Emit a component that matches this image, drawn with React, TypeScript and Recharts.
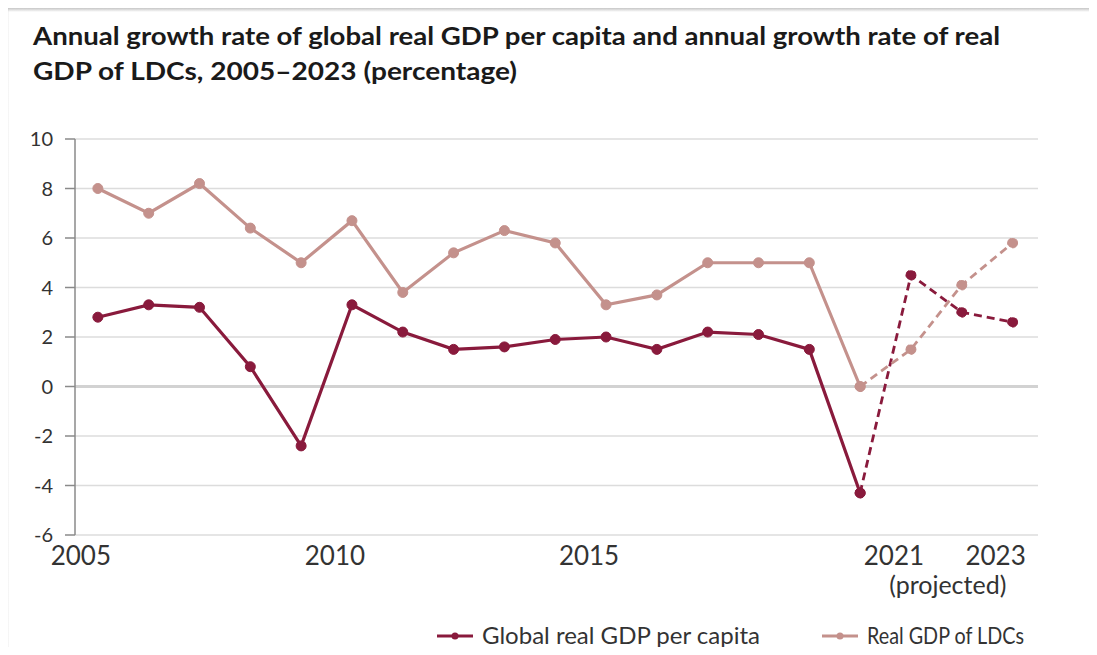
import React from 'react';
import { CartesianGrid, Legend, Line, LineChart, ReferenceLine, XAxis, YAxis } from 'recharts';

const YEARS = [2005, 2006, 2007, 2008, 2009, 2010, 2011, 2012, 2013, 2014, 2015, 2016, 2017, 2018, 2019, 2020, 2021, 2022, 2023];
const GLOBAL_GDP_PC = [2.8, 3.3, 3.2, 0.8, -2.4, 3.3, 2.2, 1.5, 1.6, 1.9, 2.0, 1.5, 2.2, 2.1, 1.5, -4.3, 4.5, 3.0, 2.6];
const LDC_GDP = [8.0, 7.0, 8.2, 6.4, 5.0, 6.7, 3.8, 5.4, 6.3, 5.8, 3.3, 3.7, 5.0, 5.0, 5.0, 0.0, 1.5, 4.1, 5.8];
// vanaf dit jaar is de lijn een projectie (gestippeld)
const PROJECTION_FROM = 2020;
const X_TICKS = [2005, 2010, 2015, 2021, 2022, 2023];
const Y_TICKS = [-6, -4, -2, 0, 2, 4, 6, 8, 10];

const DARK = '#891a3c';
const LIGHT = '#c4918c';
const FONT = 'Lato, "Open Sans", sans-serif';
// breedte van de legendateksten in het origineel (smaller lettertype)
const LEGEND_TEXT_WIDTH = [278, 157];

const data = YEARS.map((year, i) => {
  const actual = year <= PROJECTION_FROM;
  const proj = year >= PROJECTION_FROM;
  return {
    year,
    global: actual ? GLOBAL_GDP_PC[i] : null,
    ldc: actual ? LDC_GDP[i] : null,
    globalProj: proj ? GLOBAL_GDP_PC[i] : null,
    ldcProj: proj ? LDC_GDP[i] : null,
  };
});

// labels staan in het origineel iets links van het datapunt
function YearTick({ x, y, payload }: any) {
  if (payload.value === 2022) {
    return (
      <text x={x - 14} y={y + 59} textAnchor="middle" fontFamily={FONT} fontSize={25} fill="#333">
        (projected)
      </text>
    );
  }
  return (
    <text x={x - 17} y={y + 30} textAnchor="middle" fontFamily={FONT} fontSize={26} fill="#333">
      {payload.value}
    </text>
  );
}

function LegendContent({ payload }: any) {
  const items = (payload || []).filter((p: any) => p.type !== 'none');
  let cx = 0;
  return (
    <svg width={620} height={30}>
      {items.map((p: any, i: number) => {
        const x0 = cx;
        const tw = LEGEND_TEXT_WIDTH[i] ?? 150;
        cx += 36 + 9 + tw + 62;
        return (
          <g key={i}>
            <line x1={x0} y1={15} x2={x0 + 36} y2={15} stroke={p.color} strokeWidth={3} />
            <circle cx={x0 + 18} cy={15} r={3.5} fill={p.color} />
            <text
              x={x0 + 45}
              y={23}
              fontFamily={FONT}
              fontSize={24}
              fill="#333"
              textLength={tw}
              lengthAdjust="spacingAndGlyphs"
            >
              {p.value}
            </text>
          </g>
        );
      })}
    </svg>
  );
}

export default function App() {
  return (
    <div
      style={{
        position: 'relative',
        margin: -8,
        width: 1097,
        height: 655,
        background: '#fff',
        overflow: 'hidden',
      }}
    >
      {/* schaduwrand van de screenshot */}
      <div
        style={{
          position: 'absolute',
          left: 0,
          top: 0,
          width: 1097,
          height: 12,
          background: 'linear-gradient(to bottom, #8a8a8a, #b2b2b2 55%, rgba(255,255,255,0))',
        }}
      />
      <div
        style={{
          position: 'absolute',
          left: 0,
          top: 8,
          width: 9,
          height: 647,
          background: 'linear-gradient(to right, #a6a6a6, #bcbcbc 60%, rgba(255,255,255,0))',
        }}
      />
      <svg width={1097} height={100} style={{ position: 'absolute', left: 0, top: 0 }}>
        <text x={33} y={45} fontFamily={FONT} fontWeight={700} fontSize={24} fill="#1a1a1a" textLength={967} lengthAdjust="spacingAndGlyphs">
          Annual growth rate of global real GDP per capita and annual growth rate of real
        </text>
        <text x={33} y={80} fontFamily={FONT} fontWeight={700} fontSize={24} fill="#1a1a1a" textLength={484} lengthAdjust="spacingAndGlyphs">
          GDP of LDCs, 2005–2023 (percentage)
        </text>
      </svg>
      <div style={{ position: 'absolute', left: 0, top: 0 }}>
        <LineChart width={1097} height={655} data={data} margin={{ top: 139, right: 59, bottom: 0, left: 10 }}>
          <CartesianGrid vertical={false} stroke="#dcdcdc" strokeWidth={1.5} />
          <ReferenceLine y={0} stroke="#d2d2d2" strokeWidth={3} />
          <XAxis
            dataKey="year"
            type="number"
            domain={[2004.55, 2023.5]}
            ticks={X_TICKS}
            axisLine={false}
            tickLine={false}
            tickSize={0}
            tickMargin={0}
            height={120}
            tick={<YearTick />}
            interval={0}
          />
          <YAxis
            domain={[-6, 10]}
            ticks={Y_TICKS}
            width={65}
            axisLine={{ stroke: '#8a8a8a', strokeWidth: 1.5 }}
            tickLine={{ stroke: '#8a8a8a', strokeWidth: 1.5 }}
            tickSize={10}
            tickMargin={12}
            tick={{ fontFamily: FONT, fontSize: 20, fill: '#333' }}
            interval={0}
          />
          <Line
            dataKey="global"
            name="Global real GDP per capita"
            stroke={DARK}
            strokeWidth={3.2}
            dot={{ r: 5, fill: DARK, stroke: DARK, strokeWidth: 1 }}
            isAnimationActive={false}
          />
          <Line
            dataKey="ldc"
            name="Real GDP of LDCs"
            stroke={LIGHT}
            strokeWidth={3.2}
            dot={{ r: 5, fill: LIGHT, stroke: LIGHT, strokeWidth: 1 }}
            isAnimationActive={false}
          />
          <Line
            dataKey="globalProj"
            legendType="none"
            stroke={DARK}
            strokeWidth={2.8}
            strokeDasharray="8 5"
            dot={{ r: 5, fill: DARK, stroke: DARK, strokeWidth: 1 }}
            isAnimationActive={false}
          />
          <Line
            dataKey="ldcProj"
            legendType="none"
            stroke={LIGHT}
            strokeWidth={2.8}
            strokeDasharray="8 5"
            dot={{ r: 5, fill: LIGHT, stroke: LIGHT, strokeWidth: 1 }}
            isAnimationActive={false}
          />
          <Legend
            layout="horizontal"
            verticalAlign="middle"
            content={<LegendContent />}
            wrapperStyle={{ left: 437, top: 621, width: 'auto', height: 'auto' }}
          />
        </LineChart>
      </div>
    </div>
  );
}
